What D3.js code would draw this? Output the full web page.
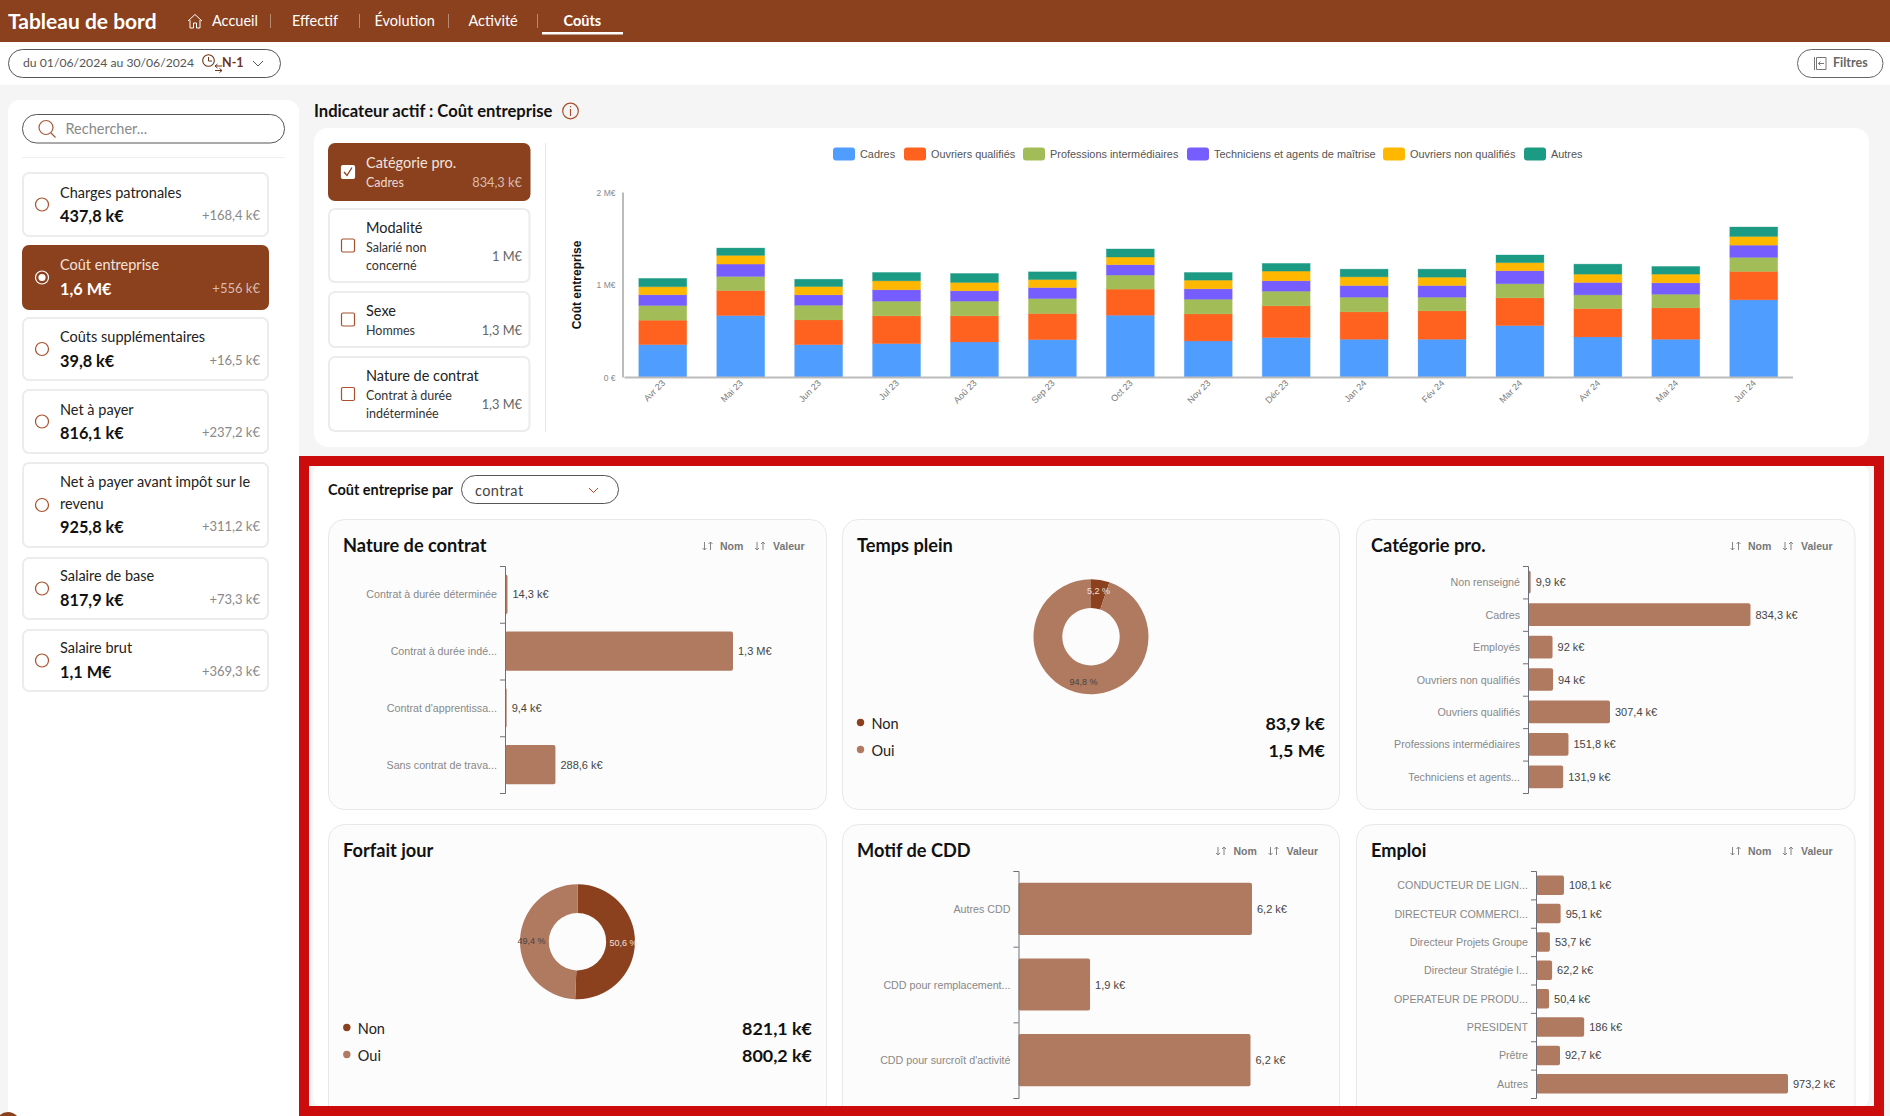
<!DOCTYPE html>
<html lang="fr">
<head>
<meta charset="utf-8">
<title>Tableau de bord</title>
<script src="https://cdn.jsdelivr.net/npm/d3@7"></script>
<style>
  html, body { margin: 0; padding: 0; background: #fff; overflow: hidden; }
  svg { display: block; font-family: Lato, sans-serif; }
  text { dominant-baseline: central; }
  .arial, .arial text { font-family: "Liberation Sans", Arial, sans-serif; }
</style>
</head>
<body>
<svg id="page" width="1890" height="1116"></svg>
<script>
// colours
const BROWN = '#8b401e';
const TAN = '#af7a60';
const seriesColors = ['#4f9eff', '#ff621f', '#a2bd57', '#765dff', '#ffb700', '#1b9a84'];

// stacked chart, k€
const months = ['Avr 23', 'Mai 23', 'Jun 23', 'Jul 23', 'Aoû 23', 'Sep 23', 'Oct 23', 'Nov 23', 'Déc 23', 'Jan 24', 'Fév 24', 'Mar 24', 'Avr 24', 'Mai 24', 'Jun 24'];
const seriesNames = ['Cadres', 'Ouvriers qualifiés', 'Professions intermédiaires', 'Techniciens et agents de maîtrise', 'Ouvriers non qualifiés', 'Autres'];
const cadres = [350, 664, 350, 361, 379, 404, 668, 390, 426, 408, 408, 556, 433, 408, 834.3];
const ouvriersQualifies = [264, 271, 267, 300, 282, 282, 282, 292, 343, 296, 307, 300, 307, 339, 307.4];
const professionsInter = [159, 152, 159, 159, 159, 162, 152, 159, 159, 159, 148, 152, 148, 148, 151.8];
const techniciens = [116, 134, 112, 123, 112, 119, 112, 112, 112, 126, 126, 141, 134, 123, 131.9];
const ouvriersNonQualifies = [87, 94, 90, 97, 90, 87, 83, 94, 105, 94, 90, 87, 90, 94, 94];
const autres = [90, 79, 79, 90, 97, 83, 87, 83, 83, 83, 87, 83, 108, 83, 102];
const stackTicks = [0, 1000, 2000];
const stackTickLabels = ['0 €', '1 M€', '2 M€'];

// left list
const kpiNames = [['Charges patronales'], ['Coût entreprise'], ['Coûts supplémentaires'], ['Net à payer'], ['Net à payer avant impôt sur le', 'revenu'], ['Salaire de base'], ['Salaire brut']];
const kpiValues = ['437,8 k€', '1,6 M€', '39,8 k€', '816,1 k€', '925,8 k€', '817,9 k€', '1,1 M€'];
const kpiDeltas = ['+168,4 k€', '+556 k€', '+16,5 k€', '+237,2 k€', '+311,2 k€', '+73,3 k€', '+369,3 k€'];

// filters
const filterTitles = ['Catégorie pro.', 'Modalité', 'Sexe', 'Nature de contrat'];
const filterSubs = [['Cadres'], ['Salarié non', 'concerné'], ['Hommes'], ['Contrat à durée', 'indéterminée']];
const filterValues = ['834,3 k€', '1 M€', '1,3 M€', '1,3 M€'];

// breakdown bars, k€
const contratNames = ['Contrat à durée déterminée', 'Contrat à durée indé...', "Contrat d'apprentissa...", 'Sans contrat de trava...'];
const contratValues = [14.3, 1305, 9.4, 288.6];
const categorieNames = ['Non renseigné', 'Cadres', 'Employés', 'Ouvriers non qualifiés', 'Ouvriers qualifiés', 'Professions intermédiaires', 'Techniciens et agents...'];
const categorieValues = [9.9, 834.3, 92, 94, 307.4, 151.8, 131.9];
const motifNames = ['Autres CDD', 'CDD pour remplacement...', "CDD pour surcroît d'activité"];
const motifValues = [6.2, 1.9, 6.16];
const emploiNames = ['CONDUCTEUR DE LIGN...', 'DIRECTEUR COMMERCI...', 'Directeur Projets Groupe', 'Directeur Stratégie I...', 'OPERATEUR DE PRODU...', 'PRESIDENT', 'Prêtre', 'Autres'];
const emploiValues = [108.1, 95.1, 53.7, 62.2, 50.4, 186, 92.7, 973.2];

// donuts
const donutNames = ['Non', 'Oui'];
const tempsPleinValues = [83.9, 1530];
const tempsPleinLabels = ['83,9 k€', '1,5 M€'];
const tempsPleinPct = ['5,2 %', '94,8 %'];
const forfaitValues = [821.1, 800.2];
const forfaitLabels = ['821,1 k€', '800,2 k€'];
const forfaitPct = ['50,6 %', '49,4 %'];

const svg = d3.select('#page');

function rect(g, x, y, w, h, rx, fill, stroke, sw) {
    return g.append('rect').attr('x', x).attr('y', y).attr('width', w).attr('height', h)
        .attr('rx', rx).attr('fill', fill).attr('stroke', stroke || 'none').attr('stroke-width', sw || 0);
}
function text(g, x, y, s, size, color, weight, anchor) {
    return g.append('text').attr('x', x).attr('y', y).text(s).attr('font-size', size)
        .attr('fill', color).attr('font-weight', weight || 400).attr('text-anchor', anchor || 'start');
}
function fmtValue(v) {
    const s = v >= 1000 ? Math.round(v / 100) / 10 : Math.round(v * 10) / 10;
    return String(s).replace('.', ',') + (v >= 1000 ? ' M€' : ' k€');
}

// page background
rect(svg, 0, 85, 1890, 1031, 0, '#f5f5f5');

// header
rect(svg, 0, 0, 1890, 42, 0, BROWN);
text(svg, 8, 20.5, 'Tableau de bord', 21, '#fff', 700);
const navLabels = ['Accueil', 'Effectif', 'Évolution', 'Activité', 'Coûts'];
const navX = [212, 292, 374.5, 468.5, 563.5];
navLabels.forEach((d, i) => text(svg, navX[i], 20.3, d, 14.5, '#fff', i === 4 ? 700 : 400));
[270.5, 359.5, 448.5, 537.5].forEach(x => {
    svg.append('line').attr('x1', x).attr('x2', x).attr('y1', 14).attr('y2', 28).attr('stroke', '#b98a72');
});
rect(svg, 542, 32, 81, 2.5, 0, '#fff');
svg.append('path').attr('d', 'M188 21 L195 14.5 L202 21 M190 20 V28 H193.5 V23 H196.5 V28 H200 V20')
    .attr('fill', 'none').attr('stroke', '#fff').attr('stroke-width', 1);

// date pill
rect(svg, 8.5, 49.5, 272, 28, 14, '#fff', '#555', 1);
text(svg, 23, 62.5, 'du 01/06/2024 au 30/06/2024', 12.2, '#555');
svg.append('circle').attr('cx', 208.5).attr('cy', 60.5).attr('r', 5.8).attr('fill', 'none').attr('stroke', '#6e3415').attr('stroke-width', 1.1);
svg.append('path').attr('d', 'M208.5 57 V61 H212 M215 66 H222 M217.5 64 L215 66 L217.5 68 M215 70.5 H222 M219.5 68.5 L222 70.5 L219.5 72.5')
    .attr('fill', 'none').attr('stroke', '#6e3415').attr('stroke-width', 1);
text(svg, 222, 62.5, 'N-1', 12.5, '#6e3415', 700);
svg.append('path').attr('d', 'M253 61 L258 66 L263 61').attr('fill', 'none').attr('stroke', '#555');

// filters pill
rect(svg, 1797.5, 49.5, 85.5, 28, 14, '#fff', '#666', 1);
svg.append('path').attr('d', 'M1814.5 57 V70 M1816.5 57.5 H1826 V69.5 H1816.5 Z M1824 63.5 H1818.5 M1820.5 61.5 L1818.5 63.5 L1820.5 65.5')
    .attr('fill', 'none').attr('stroke', '#666').attr('stroke-width', 0.9);
text(svg, 1833, 62.3, 'Filtres', 12.5, '#666', 700);

// left panel
rect(svg, 8, 100, 291, 1030, 12, '#fff');
rect(svg, 22.5, 114.5, 262, 28.5, 14, '#fff', '#555', 1);
svg.append('circle').attr('cx', 46).attr('cy', 127.5).attr('r', 7).attr('fill', 'none').attr('stroke', '#a8583a').attr('stroke-width', 1.2);
svg.append('line').attr('x1', 51).attr('y1', 133).attr('x2', 55.5).attr('y2', 137.5).attr('stroke', '#a8583a').attr('stroke-width', 1.2);
text(svg, 65.5, 128.5, 'Rechercher...', 14.5, '#8a8a8a');
svg.append('line').attr('x1', 22).attr('x2', 285).attr('y1', 157.5).attr('y2', 157.5).attr('stroke', '#eee');

const kpiTops = [172, 245, 317, 389, 462, 557, 629];
const kpiBottoms = [237, 310, 381, 454, 548, 620, 692];
const kpiLabelY = [192, 264, 336, 409, 481, 575, 647];
const kpiValueY = [215, 288, 360, 432, 526, 599, 671];
kpiNames.forEach((lines, i) => {
    const on = i === 1;
    const top = kpiTops[i], bottom = kpiBottoms[i];
    rect(svg, 23, top + 1, 245, bottom - top - 2, 6, on ? BROWN : '#fff', on ? BROWN : '#ececec', 2);
    const cy = (top + bottom) / 2;
    svg.append('circle').attr('cx', 42).attr('cy', cy).attr('r', 6.5).attr('fill', 'none')
        .attr('stroke', on ? '#fff' : '#a8502c').attr('stroke-width', 1.2);
    if (on) svg.append('circle').attr('cx', 42).attr('cy', cy).attr('r', 3.6).attr('fill', '#fff');
    lines.forEach((l, j) => text(svg, 60, kpiLabelY[i] + j * 22, l, 14.5, on ? '#f2e4dc' : '#222'));
    text(svg, 60, kpiValueY[i], kpiValues[i], 16.3, on ? '#fff' : '#111', 700);
    text(svg, 260, kpiValueY[i], kpiDeltas[i], 13, on ? '#d9bcae' : '#888', 400, 'end');
});

// active indicator
text(svg, 314, 111, 'Indicateur actif : Coût entreprise', 16.6, '#111', 700);
svg.append('circle').attr('cx', 570.5).attr('cy', 111).attr('r', 7.8).attr('fill', 'none').attr('stroke', '#a8502c').attr('stroke-width', 1.2);
svg.append('path').attr('d', 'M570.5 109 V116 M570.5 106 V107.2').attr('stroke', '#a8502c').attr('stroke-width', 1.2);

// top panel
rect(svg, 314, 128, 1555, 319, 14, '#fff');
const filterTops = [143, 208, 291, 356];
const filterBottoms = [201, 283, 348, 432];
const filterTitleY = [162, 227, 310, 375];
const filterSubY = [182, 247, 330, 395];
const filterValueY = [182, 255.5, 330, 403.5];
filterTitles.forEach((t, i) => {
    const on = i === 0;
    rect(svg, 329, filterTops[i] + 1, 200.5, filterBottoms[i] - filterTops[i] - 2, 6, on ? BROWN : '#fff', on ? BROWN : '#ececec', 2);
    const cy = (filterTops[i] + filterBottoms[i]) / 2;
    rect(svg, 341.5, cy - 6.5, 13, 13, 1.5, on ? '#fff' : 'none', on ? '#fff' : '#a8502c', 1.2);
    if (on) {
        svg.append('path').attr('d', `M344 ${cy} l3 3.5 l5 -8`).attr('fill', 'none').attr('stroke', BROWN).attr('stroke-width', 1.3);
    }
    text(svg, 366, filterTitleY[i], t, 14.5, on ? '#f2e4dc' : '#222');
    filterSubs[i].forEach((s, j) => text(svg, 366, filterSubY[i] + j * 18, s, 12.5, on ? '#ecd9cf' : '#333'));
    text(svg, 522, filterValueY[i], filterValues[i], 12.8, on ? '#d9bcae' : '#666', 400, 'end');
});
svg.append('line').attr('x1', 545.5).attr('x2', 545.5).attr('y1', 143).attr('y2', 432).attr('stroke', '#e8e8e8');

// stacked chart
const rows = months.map((m, i) => ({
    month: m,
    [seriesNames[0]]: cadres[i],
    [seriesNames[1]]: ouvriersQualifies[i],
    [seriesNames[2]]: professionsInter[i],
    [seriesNames[3]]: techniciens[i],
    [seriesNames[4]]: ouvriersNonQualifies[i],
    [seriesNames[5]]: autres[i]
}));
const stacked = d3.stack().keys(seriesNames)(rows);
const xMonth = d3.scaleBand().domain(months).range([624, 1792.5]).paddingInner(0.385).paddingOuter(0.19);
const yCost = d3.scaleLinear().domain([0, 2000]).range([377, 192]);

const stackG = svg.append('g').attr('class', 'arial');
stackG.selectAll('g.serie').data(stacked).join('g').attr('class', 'serie')
    .attr('fill', (d, i) => seriesColors[i])
    .attr('stroke', (d, i) => seriesColors[i])
    .selectAll('rect').data(d => d).join('rect')
    .attr('x', d => xMonth(d.data.month))
    .attr('width', xMonth.bandwidth())
    .attr('y', d => yCost(d[1]))
    .attr('height', d => yCost(d[0]) - yCost(d[1]))
    .attr('stroke-opacity', 0.4)
    .attr('stroke-width', 0.8);

const yAxisG = stackG.append('g').attr('transform', 'translate(622.5,0)')
    .call(d3.axisLeft(yCost).tickValues(stackTicks).tickSize(0).tickPadding(7)
        .tickFormat((d, i) => stackTickLabels[i]));
yAxisG.select('.domain').attr('stroke', '#bbb').attr('stroke-width', 2);
yAxisG.selectAll('text').attr('font-size', 8.5).attr('fill', '#888').attr('font-family', 'inherit').attr('dy', 0);

const xAxisG = stackG.append('g').attr('transform', 'translate(0,377)')
    .call(d3.axisBottom(xMonth).tickSize(0).tickPadding(6));
xAxisG.select('.domain').attr('stroke', '#bbb').attr('stroke-width', 2);
xAxisG.selectAll('text')
    .attr('font-size', 9).attr('fill', '#777').attr('font-family', 'inherit')
    .attr('text-anchor', 'end').attr('dy', 0).attr('x', -2.7).attr('y', 3.8)
    .attr('transform', 'rotate(-45)');

text(stackG, 0, 0, 'Coût entreprise', 12, '#111', 700, 'middle').attr('transform', 'translate(577,285) rotate(-90)');

// legend of the stacked chart
const legendSwatchX = [833, 904, 1023, 1187, 1383, 1524];
seriesNames.forEach((name, i) => {
    rect(stackG, legendSwatchX[i], 147.5, 22, 13, 3, seriesColors[i]);
    text(stackG, legendSwatchX[i] + 27, 154, name, 10.9, '#555');
});

// red highlight frame with the section inside
rect(svg, 304, 461, 1575, 650, 0, '#f5f5f5', '#cc0c0c', 10);
rect(svg, 313, 466, 1556, 640, 8, '#fff');

text(svg, 328, 489.3, 'Coût entreprise par', 14.5, '#111', 700);
rect(svg, 461.5, 475.5, 157, 28, 14, '#fff', '#555', 1);
text(svg, 475, 490, 'contrat', 14.5, '#444').attr('letter-spacing', 0.4);
svg.append('path').attr('d', 'M589 488 L593.5 492.5 L598 488').attr('fill', 'none').attr('stroke', '#a8502c').attr('stroke-width', 1);

// clip keeps the second row of cards inside the frame
svg.append('clipPath').attr('id', 'section').append('rect').attr('x', 313).attr('y', 466).attr('width', 1556).attr('height', 640);
const cardsG = svg.append('g').attr('clip-path', 'url(#section)');

function card(x, y, w, h, title) {
    const g = cardsG.append('g');
    rect(g, x + 0.5, y + 0.5, w, h, 16, '#fcfcfc', '#e8e8e8', 1);
    text(g, x + 15, y + 26, title, 18.2, '#111', 700);
    return g;
}
function sortButtons(g, x, y) {
    const a = g.append('g').attr('class', 'arial');
    [x, x + 52.5].forEach(ix => {
        a.append('path').attr('d', `M${ix + 2} ${y - 4} V${y + 4} M${ix} ${y + 2} L${ix + 2} ${y + 4} L${ix + 4} ${y + 2} M${ix + 8} ${y + 4} V${y - 4} M${ix + 6} ${y - 2} L${ix + 8} ${y - 4} L${ix + 10} ${y - 2}`)
            .attr('fill', 'none').attr('stroke', '#777').attr('stroke-width', 0.9);
    });
    text(a, x + 17.5, y, 'Nom', 10.5, '#777', 700);
    text(a, x + 70.5, y, 'Valeur', 10.5, '#777', 700);
}
function hbars(g, names, values, axisX, maxValue, maxX, top, bottom, barShare) {
    const a = g.append('g').attr('class', 'arial');
    const y = d3.scaleBand().domain(names).range([top, bottom]).paddingInner(1 - barShare).paddingOuter((1 - barShare) / 2);
    const x = d3.scaleLinear().domain([0, maxValue]).range([axisX, maxX]);
    a.selectAll('rect').data(values).join('rect')
        .attr('x', axisX).attr('y', (d, i) => y(names[i]))
        .attr('width', d => x(d) - axisX).attr('height', y.bandwidth())
        .attr('rx', 2).attr('fill', TAN);
    // category labels sit mid-band, ticks sit between bands
    const labels = a.append('g').attr('transform', `translate(${axisX},0)`)
        .call(d3.axisLeft(y).tickSize(0).tickPadding(8));
    labels.select('.domain').remove();
    labels.selectAll('text').attr('font-size', 10.7).attr('fill', '#888').attr('font-family', 'inherit').attr('dy', 0);
    const edges = d3.scaleLinear().domain([0, names.length]).range([top, bottom]);
    const ticks = a.append('g').attr('transform', `translate(${axisX},0)`)
        .call(d3.axisLeft(edges).tickValues(d3.range(names.length + 1)).tickSize(5).tickFormat(''));
    ticks.selectAll('path,line').attr('stroke', '#6e7079');
    a.selectAll('text.val').data(values).join('text').attr('class', 'val')
        .attr('x', d => x(d) + 5).attr('y', (d, i) => y(names[i]) + y.bandwidth() / 2)
        .text(fmtValue).attr('font-size', 11).attr('fill', '#444');
}
function donut(g, names, values, amounts, pct, cx, cy, legendX, legendY, valueX) {
    const angles = d3.pie().sort(null)(values);
    const ring = d3.arc().innerRadius(28.7).outerRadius(57.5);
    const labelArc = d3.arc().innerRadius(46).outerRadius(46);
    const colors = [BROWN, TAN];
    const a = g.append('g').attr('transform', `translate(${cx},${cy})`);
    a.selectAll('path').data(angles).join('path').attr('d', ring).attr('fill', (d, i) => colors[i]);
    a.selectAll('text').data(angles).join('text')
        .attr('transform', d => `translate(${labelArc.centroid(d)})`)
        .attr('text-anchor', 'middle').attr('font-size', 9)
        .attr('font-family', '"Liberation Sans", Arial, sans-serif')
        .attr('fill', (d, i) => i === 0 ? '#f0e2da' : '#444')
        .text((d, i) => pct[i]);
    names.forEach((n, i) => {
        const y = legendY + i * 27;
        g.append('circle').attr('cx', legendX).attr('cy', y).attr('r', 3.7).attr('fill', colors[i]);
        text(g, legendX + 11, y + 0.5, n, 14.5, '#222');
        text(g, valueX, y, amounts[i], 17.9, '#111', 700, 'end');
    });
}

const c1 = card(328, 519, 498, 290, 'Nature de contrat');
sortButtons(c1, 702.5, 546);
hbars(c1, contratNames, contratValues, 505, 1305, 733, 566, 793, 0.69);

const c2 = card(842, 519, 497, 290, 'Temps plein');
donut(c2, donutNames, tempsPleinValues, tempsPleinLabels, tempsPleinPct, 1091, 636.7, 860.5, 722.5, 1325);

const c3 = card(1356, 519, 498.5, 290, 'Catégorie pro.');
sortButtons(c3, 1730.5, 546);
hbars(c3, categorieNames, categorieValues, 1528, 834.3, 1750.5, 566, 793, 0.7);

const c4 = card(328, 824, 498, 320, 'Forfait jour');
donut(c4, donutNames, forfaitValues, forfaitLabels, forfaitPct, 577.5, 941.7, 346.8, 1027.5, 812);

const c5 = card(842, 824, 497, 320, 'Motif de CDD');
sortButtons(c5, 1216, 851);
hbars(c5, motifNames, motifValues, 1018.5, 6.2, 1252, 871, 1098, 0.69);

const c6 = card(1356, 824, 498.5, 320, 'Emploi');
sortButtons(c6, 1730.5, 851);
hbars(c6, emploiNames, emploiValues, 1536, 973.2, 1788, 871, 1098, 0.69);

// help bubble, mostly off the page
svg.append('circle').attr('cx', 8).attr('cy', 1124).attr('r', 12).attr('fill', BROWN);
</script>
</body>
</html>
